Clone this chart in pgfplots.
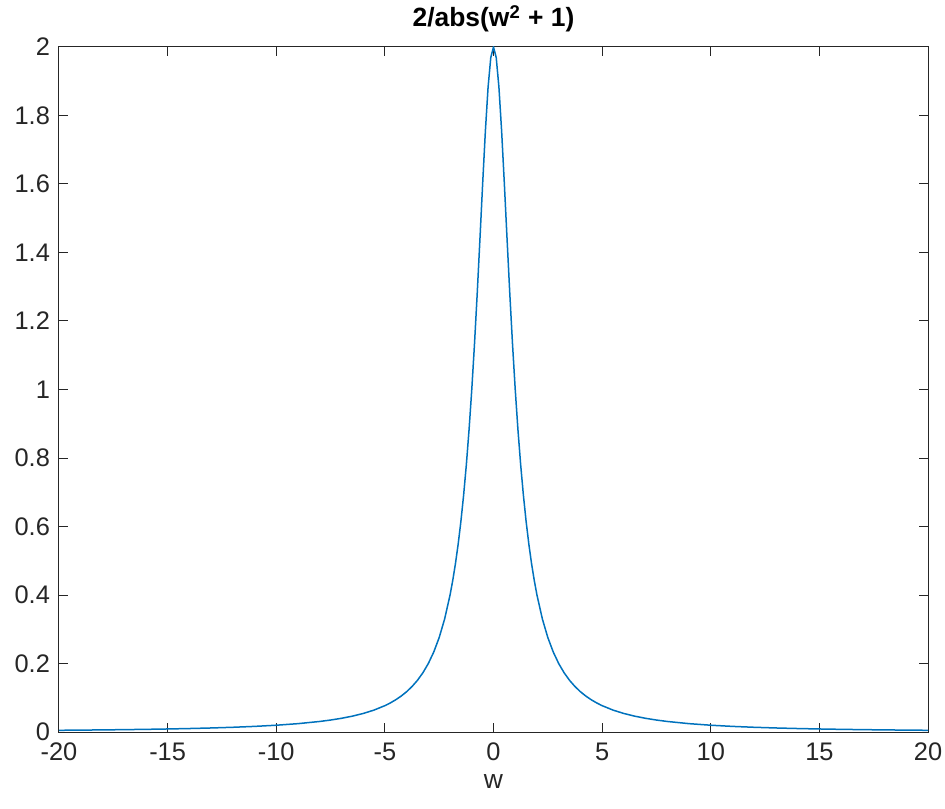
\documentclass[border=0pt]{standalone}
\usepackage{pgfplots}
\pgfplotsset{compat=1.18}
\usepackage{fontspec}
\setmainfont{Liberation Sans}
\definecolor{mblue}{rgb}{0,0.447,0.741}
\definecolor{mgray}{rgb}{0.15,0.15,0.15}
\begin{document}
\begin{tikzpicture}
\path[use as bounding box] (-29.5pt,-38pt) rectangle (443pt,366pt);
\begin{axis}[
  at={(0,0)}, anchor=south west,
  scale only axis, width=434.5pt, height=342.5pt,
  xmin=-20, xmax=20, ymin=0, ymax=2,
  xtick={-20,-15,...,20}, ytick={0,0.2,...,2.01},
  tick align=inside, major tick length=4.5pt,
  axis line style={mgray, line width=0.5pt},
  every tick/.style={mgray, line width=0.5pt},
  tick label style={font=\fontsize{12.7}{14}\selectfont, text=mgray},
  /pgf/number format/assume math mode=true,
  yticklabel style={/pgf/number format/fixed, xshift=-1pt},
  xticklabel style={yshift=-2pt},
  title={\textbf{2/abs(w\textsuperscript{2} + 1)}},
  title style={font=\fontsize{13.2}{15}\selectfont, anchor=base, at={(0.5,1)}, yshift=4pt, text=black},
  xlabel={w}, xlabel style={font=\fontsize{13.2}{15}\selectfont, text=mgray},
  clip=true,
]
\addplot[mblue, line width=0.75pt] table {
x y
-20 0.004988
-19 0.005525
-18 0.006154
-17 0.006897
-16 0.007782
-15 0.008850
-14 0.010152
-13 0.011765
-12 0.013793
-11 0.016393
-10 0.019802
-9 0.024390
-8 0.030769
-7.5 0.034934
-7 0.04
-6.5 0.046243
-6 0.054054
-5.5 0.064
-5 0.076923
-4.75 0.084881
-4.5 0.094118
-4.25 0.104918
-4 0.117647
-3.75 0.132780
-3.5 0.150943
-3.25 0.172973
-3 0.2
-2.75 0.233577
-2.5 0.275862
-2.25 0.329897
-2 0.4
-1.875 0.442907
-1.75 0.492308
-1.625 0.549356
-1.5 0.615385
-1.375 0.691892
-1.25 0.780488
-1.125 0.882759
-1 1
-0.875 1.132743
-0.75 1.28
-0.625 1.438202
-0.5 1.6
-0.375 1.753425
-0.25 1.882353
-0.125 1.969231
0 2
0.125 1.969231
0.25 1.882353
0.375 1.753425
0.5 1.6
0.625 1.438202
0.75 1.28
0.875 1.132743
1 1
1.125 0.882759
1.25 0.780488
1.375 0.691892
1.5 0.615385
1.625 0.549356
1.75 0.492308
1.875 0.442907
2 0.4
2.25 0.329897
2.5 0.275862
2.75 0.233577
3 0.2
3.25 0.172973
3.5 0.150943
3.75 0.132780
4 0.117647
4.25 0.104918
4.5 0.094118
4.75 0.084881
5 0.076923
5.5 0.064
6 0.054054
6.5 0.046243
7 0.04
7.5 0.034934
8 0.030769
9 0.024390
10 0.019802
11 0.016393
12 0.013793
13 0.011765
14 0.010152
15 0.008850
16 0.007782
17 0.006897
18 0.006154
19 0.005525
20 0.004988
};
\end{axis}
\end{tikzpicture}
\end{document}
